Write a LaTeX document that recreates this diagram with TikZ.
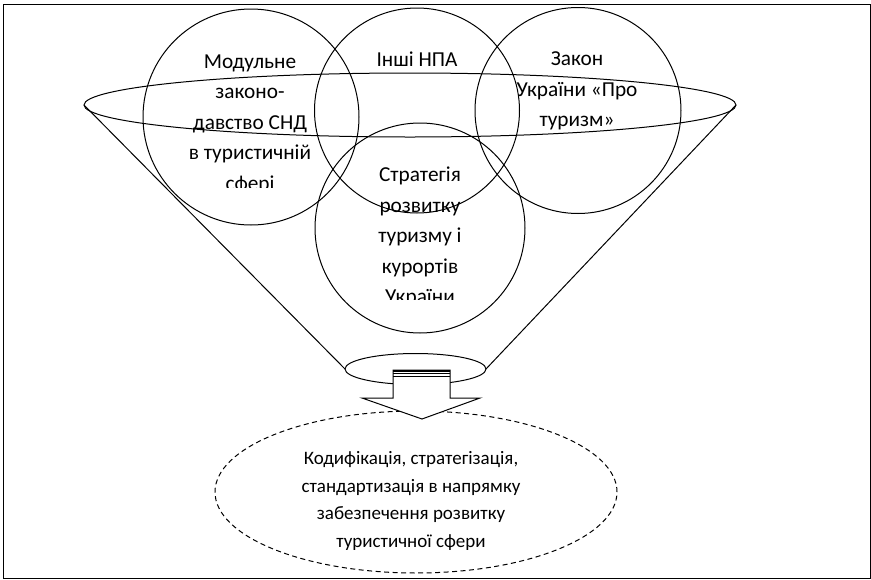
\documentclass[tikz,border=0pt]{standalone}
\usepackage{fontspec}
\setmainfont{Carlito}
\usetikzlibrary{shapes.geometric}
\begin{document}
\begin{tikzpicture}[x=1pt,y=-1pt,
  ln/.style={draw=black, line width=1pt},
  circ/.style={ln, circle, inner sep=0pt, outer sep=0pt},
  ell/.style={ln, ellipse, inner sep=0pt, outer sep=0pt},
  txt/.style={font=\fontsize{21.3}{30.5}\selectfont, align=center, inner sep=0pt},
  btxt/.style={font=\fontsize{19}{27.7}\selectfont, align=center, inner sep=0pt}]
\useasboundingbox (0,0) rectangle (871,579);
\draw[line width=1pt] (3.5,4.5) rectangle (870.5,578);
% circles
\node[circ, minimum size=216pt] (c1) at (251,117) {};
\node[circ, minimum size=205pt] (c2) at (417,110.5) {};
\node[circ, minimum size=206pt] (c3) at (578,110.5) {};
\node[circ, minimum size=210pt] (c4) at (420,228) {};
% funnel
\node[ell, minimum width=652pt, minimum height=64pt] (big) at (410,105) {};
\node[ell, minimum width=141pt, minimum height=31pt] (small) at (415.5,369) {};
\draw[ln] (big.west) -- (small.west);
\draw[ln] (big.east) -- (small.east);
% result ellipse
\node[ell, dashed, dash pattern=on 5pt off 3.5pt, minimum width=402pt, minimum height=162pt] (res) at (416,492) {};
% arrow
\draw[ln, fill=white] (393,370) -- (393,398) -- (362,398) -- (422,419) -- (480,398) -- (450,398) -- (450,370) -- cycle;
\draw[line width=2pt] (393,370.5) -- (450,370.5);
\draw[line width=0.8pt] (393,373.5) -- (450,373.5);
\draw[line width=0.8pt] (393,376) -- (450,376);
% texts
\begin{scope}
\clip (170,40) rectangle (332,187);
\node[txt] (t1) at (250,124) {Модульне\\законо-\\давство СНД\\в туристичній\\сфері};
\end{scope}
\node[txt] (t2) at (417,59) {Інші НПА};
\begin{scope}
\clip (514,40) rectangle (642,190);
\node[txt] (t3) at (577,91) {Закон\\України «Про\\туризм»};
\end{scope}
\begin{scope}
\clip (340,150) rectangle (500,299.5);
\node[txt] (t4) at (420,237) {Стратегія\\розвитку\\туризму і\\курортів\\України};
\end{scope}
\begin{scope}
\clip (250,430) rectangle (580,549);
\node[btxt] (t5) at (411,501) {Кодифікація, стратегізація,\\стандартизація в напрямку\\забезпечення розвитку\\туристичної сфери};
\end{scope}
\end{tikzpicture}
\end{document}
